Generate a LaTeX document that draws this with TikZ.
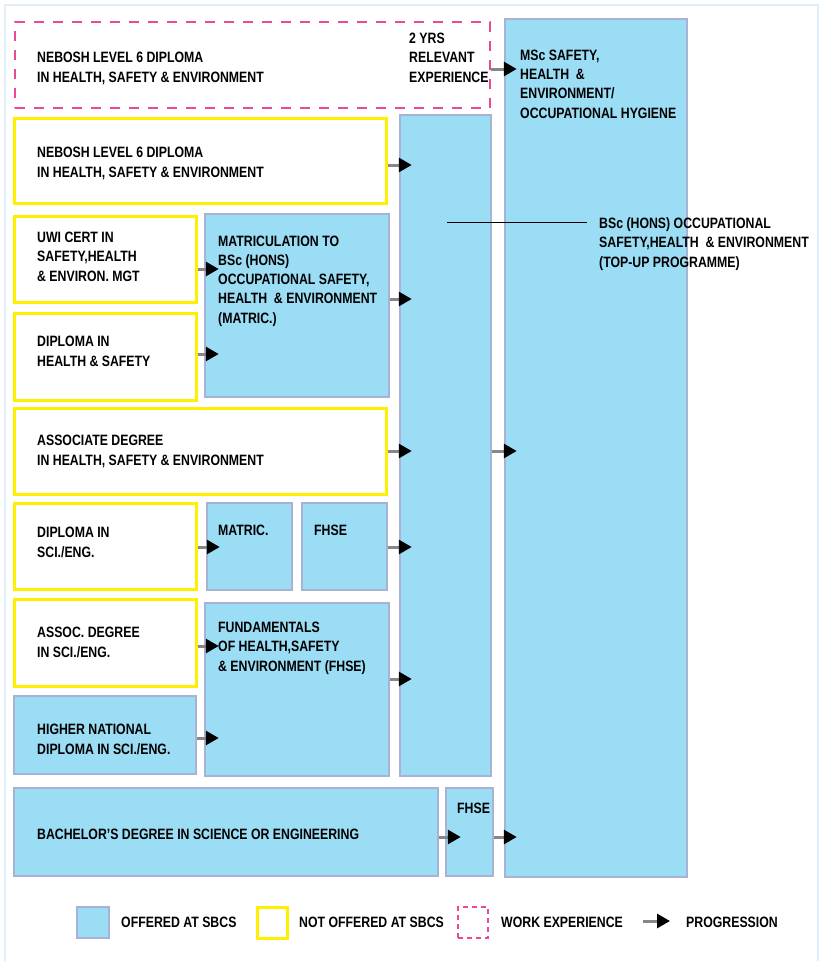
\documentclass[tikz,border=0pt]{standalone}
\usepackage{fontspec}
\setmainfont{Liberation Sans}[FakeStretch=0.82]
\usetikzlibrary{arrows.meta,fit}
\definecolor{skyfill}{RGB}{156,221,246}
\definecolor{skyedge}{RGB}{168,178,212}
\definecolor{yel}{RGB}{255,240,0}
\definecolor{pnk}{RGB}{234,72,152}
\definecolor{framecol}{RGB}{222,239,250}
\definecolor{arrgrey}{RGB}{135,135,135}
\begin{document}
\begin{tikzpicture}[x=1pt,y=-1pt,
  offered/.style={draw=skyedge,fill=skyfill,line width=2.5pt,inner sep=0pt},
  notoffered/.style={draw=yel,fill=white,line width=3pt,inner sep=0pt},
  workexp/.style={draw=pnk,line width=1.5pt,dash pattern=on 10pt off 9pt,inner sep=0pt},
  legwork/.style={draw=pnk,line width=1.2pt,dash pattern=on 5pt off 4pt,inner sep=0pt},
  txt/.style={anchor=base west,align=left,inner sep=0pt,font=\fontsize{15}{19.25}\selectfont\bfseries},
  prog/.style={draw=arrgrey,line width=3pt,-{Triangle[length=13pt,width=14pt,fill=black,color=black]},shorten >=-13pt}]
\useasboundingbox (0,0) rectangle (821,961);
\draw[framecol,line width=2pt] (5,5) rectangle (818,964);

% boxes
\node[workexp,fit={(15,22) (490,108)}] (wx) {};
\node[offered,fit={(505,19) (687,877)}] (msc) {};
\node[notoffered,fit={(14,118) (386,203)}] (nebosh) {};
\node[offered,fit={(400,115) (491,776)}] (tall) {};
\node[notoffered,fit={(14,216) (196,302)}] (uwi) {};
\node[notoffered,fit={(14,313) (196,400)}] (dhs) {};
\node[offered,fit={(205,214) (389,397)}] (matric) {};
\node[notoffered,fit={(14,408) (386,494)}] (assoc) {};
\node[notoffered,fit={(14,503) (196,589)}] (dse) {};
\node[offered,fit={(207,503) (292,590)}] (matsm) {};
\node[offered,fit={(302,503) (387,590)}] (fhsesm) {};
\node[notoffered,fit={(14,599) (196,686)}] (asse) {};
\node[offered,fit={(205,603) (389,776)}] (fhse) {};
\node[offered,fit={(14,696) (196,774)}] (hnd) {};
\node[offered,fit={(14,788) (438,876)}] (bach) {};
\node[offered,fit={(446,788) (493,876)}] (fhsebs) {};

% progression arrows
\draw[prog] (wx.east |- 0,69) -- (msc.west |- 0,69);
\draw[prog] (nebosh.east |- 0,165) -- (tall.west |- 0,165);
\draw[prog] (uwi.east |- 0,269) -- ([xshift=2pt]matric.west |- 0,269);
\draw[prog] (dhs.east |- 0,354) -- ([xshift=2pt]matric.west |- 0,354);
\draw[prog] (matric.east |- 0,299) -- (tall.west |- 0,299);
\draw[prog] (assoc.east |- 0,451) -- (tall.west |- 0,451);
\draw[prog] (tall.east |- 0,451) -- (msc.west |- 0,451);
\draw[prog] (dse.east |- 0,547) -- ([xshift=1pt]matsm.west |- 0,547);
\draw[prog] (fhsesm.east |- 0,547) -- (tall.west |- 0,547);
\draw[prog] (asse.east |- 0,646) -- ([xshift=2pt]fhse.west |- 0,646);
\draw[prog] (fhse.east |- 0,679) -- (tall.west |- 0,679);
\draw[prog] (hnd.east |- 0,738) -- ([xshift=2pt]fhse.west |- 0,738);
\draw[prog] (bach.east |- 0,837) -- ([xshift=3pt]fhsebs.west |- 0,837);
\draw[prog] (fhsebs.east |- 0,837) -- (msc.west |- 0,837);

% texts (base anchor = baseline of the last line)
\node[txt] (wxa) at (37,82) {NEBOSH LEVEL 6 DIPLOMA\\IN HEALTH, SAFETY \& ENVIRONMENT};
\node[txt] (wxb) at (409,82) {2 YRS\\RELEVANT\\EXPERIENCE};
\node[txt] (msct) at (520,118) {MSc SAFETY,\\HEALTH \ \&\\ENVIRONMENT/\\OCCUPATIONAL HYGIENE};
\node[txt] (nebt) at (37,177) {NEBOSH LEVEL 6 DIPLOMA\\IN HEALTH, SAFETY \& ENVIRONMENT};
\node[txt] (uwit) at (37,281) {UWI CERT IN\\SAFETY,HEALTH\\\& ENVIRON. MGT};
\node[txt] (dhst) at (37,366) {DIPLOMA IN\\HEALTH \& SAFETY};
\node[txt] (matt) at (218,323) {MATRICULATION TO\\BSc (HONS)\\OCCUPATIONAL SAFETY,\\HEALTH \ \& ENVIRONMENT\\(MATRIC.)};
\node[txt] (asst) at (37,465) {ASSOCIATE DEGREE\\IN HEALTH, SAFETY \& ENVIRONMENT};
\node[txt] (dset) at (37,557) {DIPLOMA IN\\SCI./ENG.};
\node[txt] (matsmt) at (218,535) {MATRIC.};
\node[txt] (fhsesmt) at (314,535) {FHSE};
\node[txt] (asset) at (37,657) {ASSOC. DEGREE\\IN SCI./ENG.};
\node[txt] (fhset) at (218,671) {FUNDAMENTALS\\OF HEALTH,SAFETY\\\& ENVIRONMENT (FHSE)};
\node[txt] (hndt) at (37,754) {HIGHER NATIONAL\\DIPLOMA IN SCI./ENG.};
\node[txt] (bacht) at (37,839) {BACHELOR’S DEGREE IN SCIENCE OR ENGINEERING};
\node[txt] (fhsebst) at (457,813) {FHSE};
\node[txt] (bsct) at (599,267) {BSc (HONS) OCCUPATIONAL\\SAFETY,HEALTH \ \& ENVIRONMENT\\(TOP-UP PROGRAMME)};
\coordinate (bscpt) at (447,222);
\coordinate (bscend) at (587,222);
\draw[black,line width=1pt] (bscpt) -- (bscend);

% legend
\node[offered,fit={(77,907) (109,938)}] (legoff) {};
\node[txt] (legofft) at (121,927) {OFFERED AT SBCS};
\node[notoffered,fit={(257,907) (287,938)}] (legnot) {};
\node[txt] (legnott) at (299,927) {NOT OFFERED AT SBCS};
\node[legwork,fit={(458,907) (488,938)}] (legwx) {};
\node[txt] (legwxt) at (501,927) {WORK EXPERIENCE};
\coordinate (lga) at (643,921);
\coordinate (lgb) at (657,921);
\draw[prog] (lga) -- (lgb);
\node[txt] (legprogt) at (686,927) {PROGRESSION};
\end{tikzpicture}
\end{document}
